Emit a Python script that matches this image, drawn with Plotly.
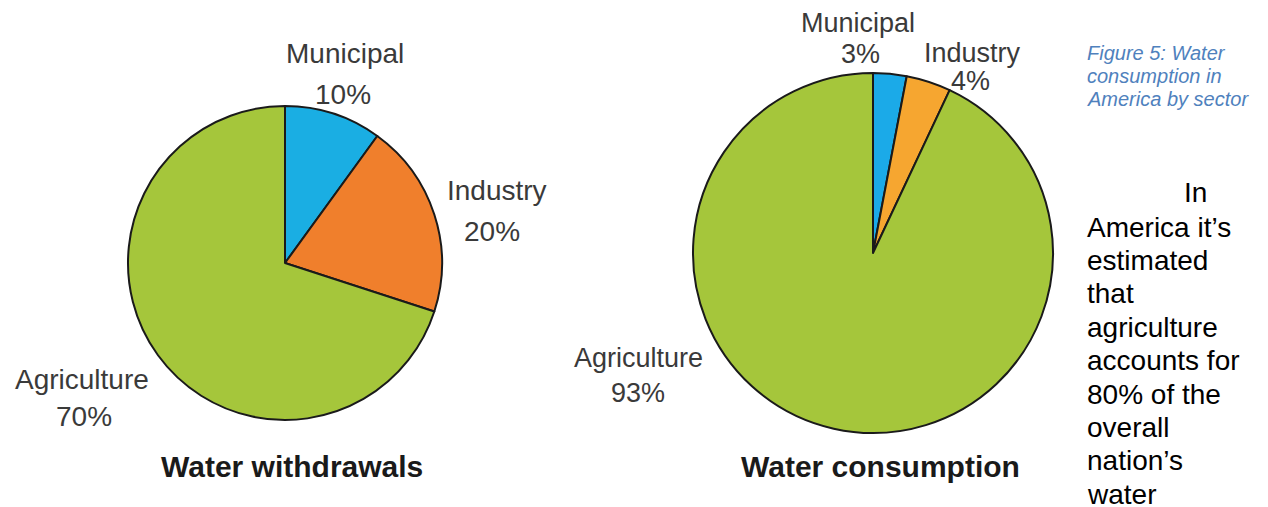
import plotly.graph_objects as go

W, H = 1268, 507

sectors = ["Municipal", "Industry", "Agriculture"]
withdrawals = [10, 20, 70]
consumption = [3, 4, 93]

colors_left = ["#1AAEE3", "#F07F2C", "#A5C63B"]
colors_right = ["#1BAAE8", "#F6A630", "#A5C63B"]

titles = ["Water withdrawals", "Water consumption"]
caption_lines = ["Figure 5: Water", "consumption in", "America by sector"]
body_first = "In"
body_lines = ["America it’s", "estimated", "that", "agriculture", "accounts for",
              "80% of the", "overall", "nation’s", "water"]

FONT = "Liberation Sans, Arial, sans-serif"


def px_x(x):
    return x / W


def px_y(y):
    return 1 - y / H


fig = go.Figure()

fig.add_trace(go.Pie(
    labels=sectors, values=withdrawals, sort=False, direction="clockwise", rotation=0,
    marker=dict(colors=colors_left, line=dict(color="#1a1a1a", width=2)),
    textinfo="none", hoverinfo="label+percent", showlegend=False,
    domain=dict(x=[px_x(128), px_x(442)], y=[px_y(420), px_y(106)]),
))
fig.add_trace(go.Pie(
    labels=sectors, values=consumption, sort=False, direction="clockwise", rotation=0,
    marker=dict(colors=colors_right, line=dict(color="#1a1a1a", width=2)),
    textinfo="none", hoverinfo="label+percent", showlegend=False,
    domain=dict(x=[px_x(693), px_x(1053)], y=[px_y(433), px_y(73)]),
))

annotations = []


def ann(text, x, y, size, color="#3a3a3a", bold=False, italic=False, xanchor="center"):
    t = f"<b>{text}</b>" if bold else text
    t = f"<i>{t}</i>" if italic else t
    annotations.append(dict(
        text=t, x=px_x(x), y=px_y(y), xref="paper", yref="paper",
        xanchor=xanchor, yanchor="middle", showarrow=False,
        font=dict(family=FONT, size=size, color=color),
    ))


# left pie labels: (name pos, pct pos)
left_pos = [((345, 54), (343, 94)), ((497, 190), (492, 231)), ((82, 379), (84, 416))]
for name, val, (npos, ppos) in zip(sectors, withdrawals, left_pos):
    ann(name, npos[0], npos[1], 28)
    ann(f"{val}%", ppos[0], ppos[1], 28)

right_pos = [((858, 23), (860, 54)), ((972, 53), (970, 81)), ((638, 358), (638, 393))]
for name, val, (npos, ppos) in zip(sectors, consumption, right_pos):
    ann(name, npos[0], npos[1], 27)
    ann(f"{val}%", ppos[0], ppos[1], 27)

ann(titles[0], 292, 466, 30, color="#1a1a1a", bold=True)
ann(titles[1], 880, 466, 30, color="#1a1a1a", bold=True)

for i, line in enumerate(caption_lines):
    ann(line, 1085, 53 + 23 * i, 20, color="#4F81BD", italic=True, xanchor="left")

ann(body_first, 1182, 193, 28, color="#000000", xanchor="left")
for i, line in enumerate(body_lines):
    ann(line, 1085, 227 + 33.4 * i, 28, color="#000000", xanchor="left")

fig.update_layout(
    width=W, height=H,
    margin=dict(l=0, r=0, t=0, b=0),
    paper_bgcolor="white", plot_bgcolor="white",
    annotations=annotations,
    showlegend=False,
)

fig.write_html("out.html")
